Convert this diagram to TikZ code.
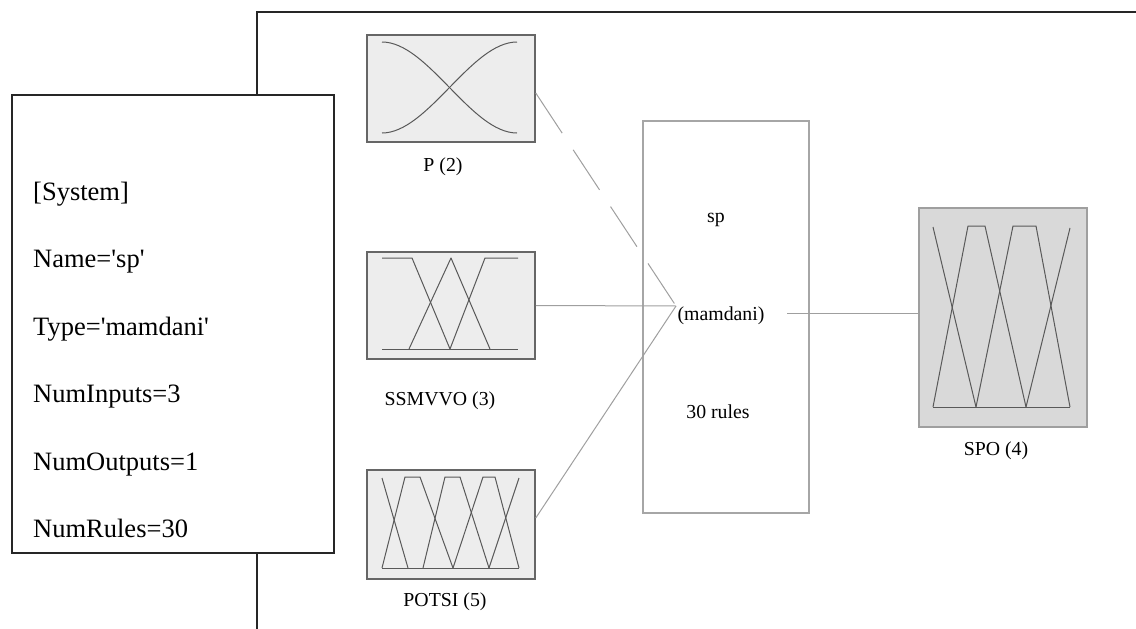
\documentclass[tikz,border=0pt]{standalone}
\usepackage{fontspec}
\setmainfont{Liberation Serif}
\newfontfamily\tnr{Liberation Serif}
\begin{document}
\begin{tikzpicture}[x=1pt,y=-1pt,
  frame/.style={line width=2pt,draw=black!85},
  sysbox/.style={draw=black!85,line width=2pt,fill=white,minimum width=322pt,minimum height=458pt,inner sep=0pt},
  mfbox/.style={draw=black!60,line width=1.5pt,fill=gray!14,minimum width=168pt,inner sep=0pt},
  outbox/.style={draw=gray!75,line width=1.2pt,fill=gray!30,minimum width=168pt,minimum height=219pt,inner sep=0pt},
  fisbox/.style={draw=gray!70,line width=1.2pt,minimum width=166pt,minimum height=392pt,inner sep=0pt},
  conn/.style={draw=gray!75,line width=1pt},
  mf/.style={draw=black!65,line width=1pt,line join=round},
  systxt/.style={anchor=base west,inner sep=0pt,font=\tnr\fontsize{26.5}{30}\selectfont},
  lbl/.style={anchor=base,inner sep=0pt,font=\tnr\fontsize{19.8}{23}\selectfont}
]
\useasboundingbox (0,0) rectangle (1136,629);
% frame
\draw[frame] (257,629) -- (257,12) -- (1136,12);
% system box
\node[sysbox] (sys) at (173,324) {};
\node[systxt] (s1) at (33,200) {[System]};
\node[systxt] (s2) at (33,267) {Name='sp'};
\node[systxt] (s3) at (33,335) {Type='mamdani'};
\node[systxt] (s4) at (33,402) {NumInputs=3};
\node[systxt] (s5) at (33,470) {NumOutputs=1};
\node[systxt] (s6) at (33,537) {NumRules=30};
% input boxes
\node[mfbox,minimum height=107pt] (P) at (451,88.5) {};
\node[mfbox,minimum height=107pt] (S) at (451,305.5) {};
\node[mfbox,minimum height=109pt] (PO) at (451,524.5) {};
\node[lbl] (Pl) at (443,171) {P (2)};
\node[lbl] (Sl) at (440,405) {SSMVVO (3)};
\node[lbl] (POl) at (445,606) {POTSI (5)};
% P membership functions
\draw[mf] (382,42) .. controls (428,42) and (471,133) .. (517,133);
\draw[mf] (382,133) .. controls (428,133) and (471,42) .. (517,42);
% SSMVVO membership functions
\draw[mf] (382,349) -- (518,349);
\draw[mf] (382,258) -- (412,258) -- (450,349);
\draw[mf] (409,349) -- (451,258) -- (490,349);
\draw[mf] (450,349) -- (485,258) -- (518,258);
% POTSI membership functions
\draw[mf] (382,568) -- (519,568);
\draw[mf] (382,478) -- (408,568);
\draw[mf] (382,568) -- (405,477) -- (420,477) -- (453,568);
\draw[mf] (423,568) -- (445,477) -- (460,477) -- (489,568);
\draw[mf] (453,568) -- (483,477) -- (495,477) -- (519,568);
\draw[mf] (489,568) -- (519,478);
% FIS box
\node[fisbox] (fis) at (726,317) {};
\node[lbl] (t1) at (716,222) {sp};
\node[lbl] (t2) at (721,320) {(mamdani)};
\node[lbl] (t3) at (718,418) {30 rules};
% output box
\node[outbox] (SPO) at (1003,317.5) {};
\node[lbl] (SPOl) at (996,455) {SPO (4)};
\draw[mf] (933,407) -- (1070,407);
\draw[mf] (933,227) -- (976,407);
\draw[mf] (933,407) -- (968,226) -- (985,226) -- (1026,407);
\draw[mf] (976,407) -- (1013,226) -- (1036,226) -- (1070,407);
\draw[mf] (1026,407) -- (1070,228);
% connectors
\coordinate (conv) at (676,306);
\coordinate (outs) at (787,313);
\draw[conn,dash pattern=on 48pt off 20pt] ([yshift=-4.5pt]P.east) -- (conv);
\draw[conn] (S.east) -- (conv);
\draw[conn] ([yshift=6.5pt]PO.east) -- (conv);
\draw[conn] (outs) -- (outs -| SPO.west);
\end{tikzpicture}
\end{document}
